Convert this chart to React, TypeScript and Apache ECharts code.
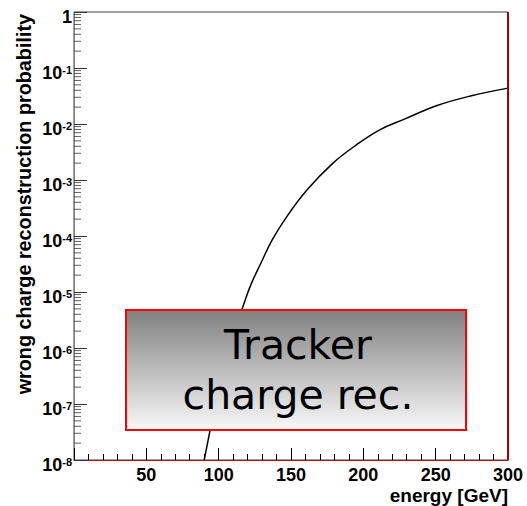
import React, { useEffect, useRef } from "react";
import * as echarts from "echarts";

// ---- data ----
const energy = [90, 94, 100, 105, 110, 116, 122, 129, 137, 147, 161, 179, 195, 211, 228, 251, 274, 300];
const probability = [
  1e-8, 3.3e-8, 1.8e-7, 6.3e-7, 1.8e-6, 4.8e-6, 1.3e-5, 3.2e-5, 8.5e-5, 2.2e-4, 6.6e-4,
  2.0e-3, 4.2e-3, 7.8e-3, 1.21e-2, 2.14e-2, 3.16e-2, 4.37e-2,
];
const xTickLabels = [50, 100, 150, 200, 250, 300];
const logDecades = [-8, -7, -6, -5, -4, -3, -2, -1];
const minorMantissas = [2, 3, 4, 5, 6, 7, 8, 9];
const xTitle = "energy [GeV]";
const yTitle = "wrong charge reconstruction probability";
const boxText = "Tracker\ncharge rec.";

const AXIS_FONT = "Liberation Sans";

export default function App() {
  const ref = useRef<HTMLDivElement>(null);
  useEffect(() => {
    if (!ref.current) return;
    const chart = echarts.init(ref.current, null, { renderer: "svg" });
    const minorVals: number[][] = [];
    logDecades.forEach((e) => minorMantissas.forEach((m) => minorVals.push([0, m * Math.pow(10, e)])));
    chart.setOption({
      animation: false,
      backgroundColor: "#fff",
      grid: {
        left: 74,
        top: 12,
        right: 19,
        bottom: 46,
        show: true,
        borderColor: "#404040",
        borderWidth: 1,
        backgroundColor: "transparent",
      },
      xAxis: {
        type: "value",
        min: 0,
        max: 300,
        interval: 50,
        axisLine: { show: true, onZero: false, lineStyle: { color: "#b01010", width: 1 } },
        axisTick: { show: true, inside: true, length: 12, lineStyle: { color: "#000" } },
        minorTick: { show: true, splitNumber: 5, length: 6, lineStyle: { color: "#000" } },
        splitLine: { show: false },
        axisLabel: {
          margin: 6,
          color: "#000",
          fontFamily: AXIS_FONT,
          fontWeight: "bold",
          fontSize: 18,
          formatter: (v: number) => (xTickLabels.includes(v) ? String(v) : ""),
        },
      },
      yAxis: {
        type: "log",
        logBase: 10,
        min: 1e-8,
        max: 1,
        axisLine: { show: true, onZero: false, lineStyle: { color: "#808080", width: 1 } },
        axisTick: { show: true, inside: true, length: 13, lineStyle: { color: "#333", width: 1 } },
        splitLine: { show: false },
        axisLabel: {
          margin: 2,
          padding: [10, 0, 0, 0],
          formatter: (v: number) => {
            if (Math.abs(v - 1) < 1e-12) return "{b|1}";
            const e = Math.round(Math.log10(v));
            return `{b|10}{s|${e}}`;
          },
          rich: {
            b: { fontFamily: AXIS_FONT, fontWeight: "bold", fontSize: 18, color: "#000", lineHeight: 18 },
            s: {
              fontFamily: AXIS_FONT,
              fontWeight: "bold",
              fontSize: 11,
              color: "#000",
              lineHeight: 11,
              verticalAlign: "top",
            },
          },
        },
      },
      series: [
        {
          type: "line",
          data: energy.map((e, i) => [e, probability[i]]),
          smooth: 0.4,
          showSymbol: false,
          symbol: "none",
          lineStyle: { color: "#000", width: 1.5 },
          clip: true,
          z: 3,
          markLine: {
            silent: true,
            symbol: ["none", "none"],
            label: { show: false },
            lineStyle: { color: "#a00000", width: 2, type: "solid" },
            data: [{ xAxis: 300 }],
          },
        },
        {
          type: "scatter",
          silent: true,
          data: minorVals,
          symbol: "rect",
          symbolSize: [7, 1],
          symbolOffset: [3.5, 0],
          itemStyle: { color: "#333" },
          clip: false,
          z: 4,
        },
      ],
      graphic: [
        {
          type: "text",
          x: 24,
          y: 14,
          rotation: Math.PI / 2,
          style: {
            text: yTitle,
            align: "right",
            verticalAlign: "middle",
            fontFamily: AXIS_FONT,
            fontWeight: "bold",
            fontSize: 19.8,
            fill: "#000",
          },
        },
        {
          type: "text",
          x: 508,
          y: 495,
          style: {
            text: xTitle,
            align: "right",
            verticalAlign: "middle",
            fontFamily: AXIS_FONT,
            fontWeight: "bold",
            fontSize: 19,
            fill: "#000",
          },
        },
        {
          type: "rect",
          z: 100,
          shape: { x: 126, y: 310, width: 340, height: 120 },
          style: {
            fill: {
              type: "linear",
              x: 0,
              y: 0,
              x2: 0,
              y2: 1,
              colorStops: [
                { offset: 0, color: "#808080" },
                { offset: 1, color: "#f8f8f8" },
              ],
            },
            stroke: "#ff0000",
            lineWidth: 2,
          },
        },
        {
          type: "text",
          z: 101,
          x: 298,
          y: 370,
          style: {
            text: boxText,
            align: "center",
            verticalAlign: "middle",
            fontFamily: "DejaVu Sans",
            fontSize: 41,
            lineHeight: 50,
            fill: "#000",
          },
        },
      ],
    });
    return () => chart.dispose();
  }, []);
  return <div ref={ref} style={{ width: 527, height: 506, position: "absolute", left: 0, top: 0 }} />;
}
